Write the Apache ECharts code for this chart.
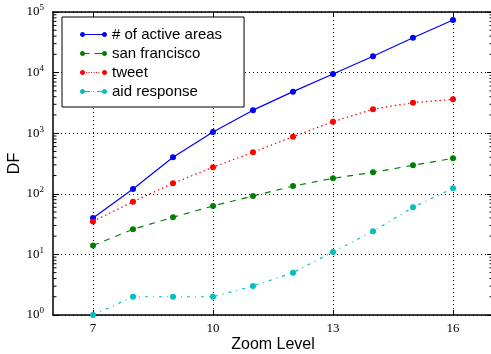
<!DOCTYPE html>
<html>
<head>
<meta charset="utf-8">
<script src="https://cdn.jsdelivr.net/npm/echarts@6/dist/echarts.min.js"></script>
<style>
  html, body { margin: 0; padding: 0; background: #fff; }
  #chart { width: 491px; height: 354px; }
</style>
</head>
<body>
<div id="chart"></div>
<script>
// Zoom levels on the x axis (axis spans 6..17, labelled every third level)
const axisLevels = ['6', '7', '8', '9', '10', '11', '12', '13', '14', '15', '16', '17'];
const labelledLevels = ['7', '10', '13', '16'];
const zoomLevels = ['7', '8', '9', '10', '11', '12', '13', '14', '15', '16'];

// Document frequency per zoom level
const activeAreas = [40, 120, 400, 1050, 2400, 4850, 9500, 18600, 37500, 74000];
const sanFrancisco = [14, 26, 41, 63, 92, 134, 180, 226, 295, 385];
const tweet = [35, 74, 149, 274, 484, 875, 1550, 2480, 3190, 3620];
const aidResponse = [1, 2, 2, 2, 3, 5, 11, 24, 60, 123];

const seriesNames = ['# of active areas', 'san francisco', 'tweet', 'aid response'];

// Minor log ticks: 2..9 within each decade
const minorTickValues = [];
for (let e = 0; e < 5; e++) {
  for (let m = 2; m <= 9; m++) minorTickValues.push(m * Math.pow(10, e));
}

const pairs = (vals) => zoomLevels.map((z, i) => [z, vals[i]]);

// Legend icons: line sample with a marker at each end (54 x 12 units)
const circ = (cx) => {
  // closed polygon approximating a dot of radius 5
  let d = '';
  for (let k = 0; k <= 16; k++) {
    const a = (k / 16) * Math.PI * 2;
    const x = (cx + 5 * Math.cos(a)).toFixed(2);
    const y = (6 + 5 * Math.sin(a)).toFixed(2);
    d += (k === 0 ? 'M' : 'L') + x + ',' + y + ' ';
  }
  return d + 'Z ';
};
const bar = (x0, x1) => `M${x0},5.2 L${x1},5.2 L${x1},6.8 L${x0},6.8 Z `;
const ends = circ(5) + circ(49);
const iconSolid = 'path://' + ends + bar(10, 44);
const iconDashed = 'path://' + ends + bar(10, 19) + bar(29, 44);
let dots = '';
for (let x = 12; x < 42; x += 5) dots += bar(x, x + 2);
const iconDotted = 'path://' + ends + dots;
const iconDashDot = 'path://' + ends + bar(10, 20) + bar(26, 28) + bar(34, 44);

const serifFont = '"Liberation Serif", "DejaVu Serif", serif';
const sansFont = '"Liberation Sans", Arial, sans-serif';

const showLevel = (idx, val) => labelledLevels.indexOf(String(val)) >= 0;

const gridLine = { show: true, lineStyle: { color: '#000', width: 1, type: [1, 3] } };

const lineSeries = (name, vals, color, type, z) => ({
  name: name,
  type: 'line',
  data: pairs(vals),
  symbol: 'circle',
  symbolSize: 6,
  showSymbol: true,
  z: z,
  lineStyle: { color: color, width: 1.2, type: type },
  itemStyle: { color: color, borderWidth: 0 }
});

const chart = echarts.init(document.getElementById('chart'), null, { renderer: 'canvas' });

chart.setOption({
  animation: false,
  backgroundColor: '#fff',
  grid: { left: 53, top: 12, width: 440, height: 303, containLabel: false, outerBoundsMode: 'none' },
  legend: {
    orient: 'vertical',
    left: 62,
    top: 17,
    padding: [10, 22, 8, 18],
    itemWidth: 27,
    itemHeight: 6,
    itemGap: 4,
    backgroundColor: '#fff',
    borderColor: '#000',
    borderWidth: 1,
    borderRadius: 0,
    selectedMode: false,
    textStyle: { fontFamily: sansFont, fontSize: 15, lineHeight: 15, color: '#000' },
    data: [
      { name: seriesNames[0], icon: iconSolid },
      { name: seriesNames[1], icon: iconDashed },
      { name: seriesNames[2], icon: iconDotted },
      { name: seriesNames[3], icon: iconDashDot }
    ]
  },
  xAxis: [
    {
      type: 'category',
      data: axisLevels,
      boundaryGap: false,
      position: 'bottom',
      name: 'Zoom Level',
      nameLocation: 'middle',
      nameGap: 22,
      nameMoveOverlap: false,
      nameTextStyle: { fontFamily: sansFont, fontSize: 16, color: '#000' },
      axisLine: { show: true, onZero: false, lineStyle: { color: '#000', width: 1.5 } },
      axisTick: { show: true, inside: true, length: 5, interval: showLevel, lineStyle: { color: '#000' } },
      axisLabel: { interval: showLevel, margin: 7, fontFamily: serifFont, fontSize: 13, color: '#000' },
      splitLine: Object.assign({ interval: showLevel }, gridLine)
    },
    {
      type: 'category',
      data: axisLevels,
      boundaryGap: false,
      position: 'top',
      axisLine: { show: true, onZero: false, lineStyle: { color: '#000', width: 1.5 } },
      axisTick: { show: true, inside: true, length: 5, interval: showLevel, lineStyle: { color: '#000' } },
      axisLabel: { show: false },
      splitLine: { show: false }
    }
  ],
  yAxis: [
    {
      type: 'log',
      logBase: 10,
      min: 1,
      max: 100000,
      position: 'left',
      name: 'DF',
      nameLocation: 'middle',
      nameGap: 30,
      nameMoveOverlap: false,
      nameTextStyle: { fontFamily: sansFont, fontSize: 16, color: '#000' },
      axisLine: { show: true, onZero: false, lineStyle: { color: '#000', width: 1.5 } },
      axisTick: { show: true, inside: true, length: 6, lineStyle: { color: '#000' } },
      axisLabel: {
        margin: 9,
        color: '#000',
        formatter: (v) => '{b|10}{s|' + Math.round(Math.log(v) / Math.LN10) + '}',
        rich: {
          b: { fontFamily: serifFont, fontSize: 13, color: '#000' },
          s: { fontFamily: serifFont, fontSize: 9, color: '#000', padding: [0, 0, 8, 0] }
        }
      },
      splitLine: gridLine
    },
    {
      type: 'log',
      logBase: 10,
      min: 1,
      max: 100000,
      position: 'right',
      axisLine: { show: true, onZero: false, lineStyle: { color: '#000', width: 1.5 } },
      axisTick: { show: true, inside: true, length: 6, lineStyle: { color: '#000' } },
      axisLabel: { show: false },
      splitLine: { show: false }
    }
  ],
  series: [
    {
      type: 'custom',
      name: 'minor ticks',
      silent: true,
      z: 3,
      clip: false,
      data: minorTickValues,
      renderItem: (params, api) => {
        const v = api.value(0);
        const l = api.coord([0, v]);
        const r = api.coord([axisLevels.length - 1, v]);
        const style = { stroke: '#000', lineWidth: 1 };
        return {
          type: 'group',
          children: [
            { type: 'line', shape: { x1: l[0], y1: l[1], x2: l[0] + 3.5, y2: l[1] }, style: style },
            { type: 'line', shape: { x1: r[0], y1: r[1], x2: r[0] - 3.5, y2: r[1] }, style: style }
          ]
        };
      },
      encode: { y: 0 }
    },
    lineSeries(seriesNames[0], activeAreas, '#0000ff', 'solid', 4),
    lineSeries(seriesNames[1], sanFrancisco, '#008000', [6, 6], 5),
    lineSeries(seriesNames[2], tweet, '#ff0000', [1.5, 3], 6),
    lineSeries(seriesNames[3], aidResponse, '#00bfbf', [3, 5, 1, 5], 7)
  ]
});
</script>
</body>
</html>
